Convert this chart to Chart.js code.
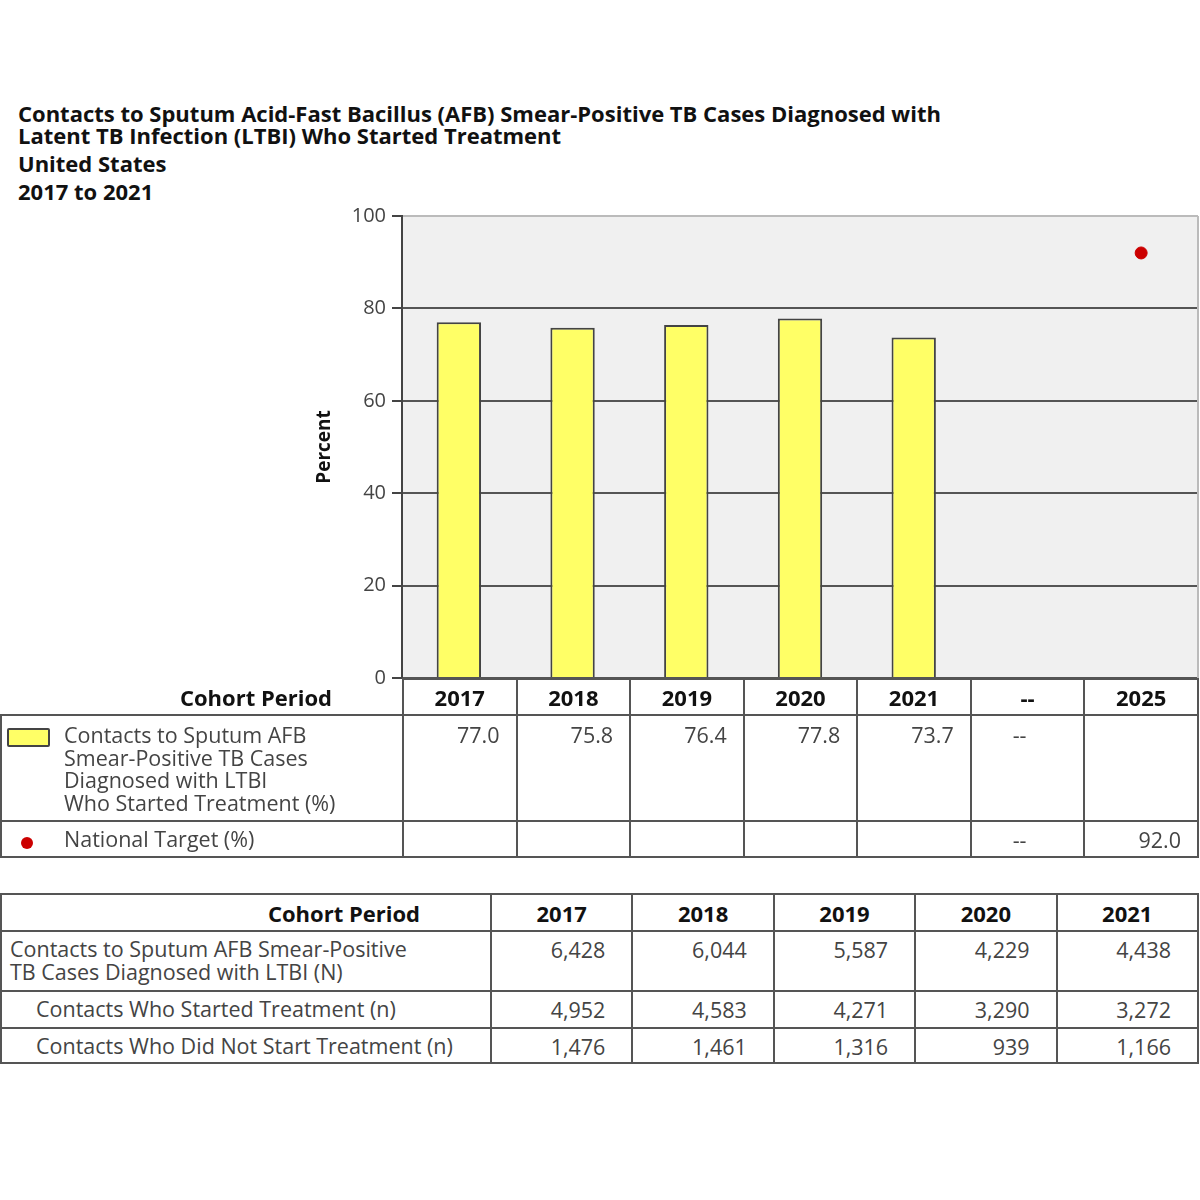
<!DOCTYPE html>
<html>
<head>
<meta charset="utf-8">
<script src="https://cdn.jsdelivr.net/npm/chart.js@4"></script>
<style>
  body { margin: 0; background: #fff; font-family: "Open Sans", sans-serif; }
  #page { position: relative; width: 1200px; height: 1200px; overflow: hidden; }
  .title { position: absolute; left: 18px; font-weight: bold; font-size: 22px; color: #111; line-height: 22px; white-space: nowrap; }
  #chartBox { position: absolute; left: 311px; top: 198px; }
  table { position: absolute; border-collapse: collapse; table-layout: fixed; font-size: 21.5px; color: #444; }
  td, th { border: 2px solid #555; padding: 0; }
  th { font-weight: bold; color: #111; font-size: 22px; }
  #legendTable { left: 0; top: 678px; width: 1199px; }
  #legendTable th { height: 34px; text-align: center; }
  #legendTable th.corner { border-left: none; border-top: none; text-align: right; padding-right: 70px; }
  #legendTable td.num { text-align: right; padding-right: 16px; vertical-align: top; padding-top: 4px; }
  #legendTable td.dash { text-align: center; }
  #legendTable td.lab { vertical-align: top; padding-left: 62px; position: relative; line-height: 22.5px; padding-top: 8px; }
  .swatch { position: absolute; left: 5px; top: 12px; width: 39px; height: 15px; background: #ffff66; border: 2px solid #444; border-radius: 2px; }
  .dot { position: absolute; left: 19px; top: 15px; width: 12px; height: 12px; background: #cc0000; border-radius: 50%; }
  #countTable { left: 0; top: 893px; width: 1199px; }
  #countTable th { height: 35px; text-align: center; }
  #countTable th.corner { text-align: right; padding-right: 70px; }
  #countTable td { text-align: right; padding-right: 26px; vertical-align: top; padding-top: 3px; }
  #countTable td.lab { text-align: left; padding-left: 8px; padding-right: 0; line-height: 22.5px; padding-top: 6px; }
  #countTable td.sub { padding-left: 34px; }
</style>
</head>
<body>
<div id="page">
  <div class="title" style="top:102px">Contacts to Sputum Acid-Fast Bacillus (AFB) Smear-Positive TB Cases Diagnosed with</div>
  <div class="title" style="top:124px">Latent TB Infection (LTBI) Who Started Treatment</div>
  <div class="title" style="top:152px">United States</div>
  <div class="title" style="top:180px">2017 to 2021</div>
  <div id="chartBox"><canvas id="chart" width="894" height="498"></canvas></div>
  <table id="legendTable"></table>
  <table id="countTable"></table>
</div>
<script>
const periods = ['2017', '2018', '2019', '2020', '2021', '--', '2025'];
const startedPct = [77.0, 75.8, 76.4, 77.8, 73.7, null, null];
const targetPct = [null, null, null, null, null, null, 92.0];
const yTicks = [0, 20, 40, 60, 80, 100];

const countYears = ['2017', '2018', '2019', '2020', '2021'];
const diagnosedN = ['6,428', '6,044', '5,587', '4,229', '4,438'];
const startedN = ['4,952', '4,583', '4,271', '3,290', '3,272'];
const notStartedN = ['1,476', '1,461', '1,316', '939', '1,166'];

const barLabel = 'Contacts to Sputum AFB Smear-Positive TB Cases Diagnosed with LTBI Who Started Treatment (%)';
const targetLabel = 'National Target (%)';

// plot background and right border
const plotBg = {
  id: 'plotBg',
  beforeDraw(chart) {
    const { ctx, chartArea: a } = chart;
    ctx.save();
    ctx.fillStyle = '#f0f0f0';
    ctx.fillRect(a.left, a.top, a.right - a.left, a.bottom - a.top);
    ctx.restore();
  },
  afterDraw(chart) {
    const { ctx, chartArea: a } = chart;
    ctx.save();
    ctx.strokeStyle = '#bbb';
    ctx.lineWidth = 2;
    ctx.beginPath();
    ctx.moveTo(a.right, a.top);
    ctx.lineTo(a.right, a.bottom);
    ctx.stroke();
    ctx.restore();
  }
};

new Chart(document.getElementById('chart'), {
  data: {
    labels: periods,
    datasets: [
      {
        type: 'bar',
        label: barLabel,
        data: startedPct,
        backgroundColor: '#ffff66',
        borderColor: '#444',
        borderWidth: 2,
        barPercentage: 0.39,
        categoryPercentage: 1,
        order: 2
      },
      {
        type: 'scatter',
        label: targetLabel,
        data: targetPct,
        backgroundColor: '#cc0000',
        borderColor: '#cc0000',
        pointRadius: 6,
        showLine: false,
        order: 1
      }
    ]
  },
  options: {
    responsive: false,
    animation: false,
    layout: { padding: { top: 0, right: 2, bottom: 0, left: 0 } },
    plugins: {
      legend: { display: false },
      tooltip: { enabled: false }
    },
    scales: {
      x: { type: 'category', display: false, offset: true },
      y: {
        min: 0,
        max: 100,
        afterBuildTicks(scale) { scale.ticks = yTicks.map(v => ({ value: v })); },
        afterFit(scale) { scale.width = 91; },
        ticks: { font: { family: 'Open Sans', size: 20 }, color: '#444', padding: 6 },
        grid: {
          color: c => (c.tick && c.tick.value === 100 ? '#bbb' : '#555'),
          tickColor: '#444',
          lineWidth: 2,
          tickLength: 10
        },
        border: { color: '#444', width: 2 },
        title: {
          display: true,
          text: 'Percent',
          font: { family: 'Open Sans', size: 19, weight: 'bold' },
          color: '#111',
          padding: 2
        }
      }
    }
  },
  plugins: [plotBg]
});

// legend / data table under the chart
const lt = document.getElementById('legendTable');
let html = '<colgroup><col style="width:402px">' + periods.map(() => '<col>').join('') + '</colgroup>';
html += '<tr><th class="corner">Cohort Period</th>' + periods.map(p => '<th>' + p + '</th>').join('') + '</tr>';
html += '<tr style="height:106px"><td class="lab"><span class="swatch"></span>Contacts to Sputum AFB<br>Smear-Positive TB Cases<br>Diagnosed with LTBI<br>Who Started Treatment (%)</td>';
html += startedPct.map((v, i) => {
  if (periods[i] === '--') return '<td class="num dash">--</td>';
  return '<td class="num">' + (v === null ? '' : v.toFixed(1)) + '</td>';
}).join('') + '</tr>';
html += '<tr style="height:36px"><td class="lab" style="padding-top:6px"><span class="dot"></span>' + targetLabel + '</td>';
html += targetPct.map((v, i) => {
  if (periods[i] === '--') return '<td class="num dash" style="padding-top:3px">--</td>';
  return '<td class="num" style="padding-top:3px">' + (v === null ? '' : v.toFixed(1)) + '</td>';
}).join('') + '</tr>';
lt.innerHTML = html;

// counts table
const ct = document.getElementById('countTable');
let h2 = '<colgroup><col style="width:490px">' + countYears.map(() => '<col>').join('') + '</colgroup>';
h2 += '<tr><th class="corner">Cohort Period</th>' + countYears.map(y => '<th>' + y + '</th>').join('') + '</tr>';
h2 += '<tr style="height:60px"><td class="lab">Contacts to Sputum AFB Smear-Positive<br>TB Cases Diagnosed with LTBI (N)</td>' + diagnosedN.map(v => '<td>' + v + '</td>').join('') + '</tr>';
h2 += '<tr style="height:37px"><td class="lab sub">Contacts Who Started Treatment (n)</td>' + startedN.map(v => '<td>' + v + '</td>').join('') + '</tr>';
h2 += '<tr style="height:35px"><td class="lab sub">Contacts Who Did Not Start Treatment (n)</td>' + notStartedN.map(v => '<td>' + v + '</td>').join('') + '</tr>';
ct.innerHTML = h2;
</script>
</body>
</html>
